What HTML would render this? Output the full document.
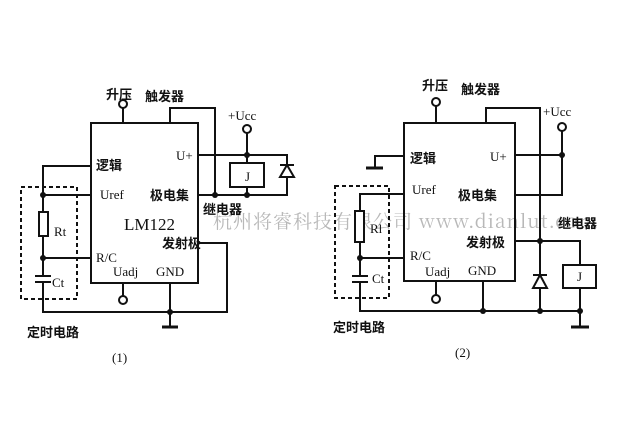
<!DOCTYPE html>
<html><head><meta charset="utf-8"><style>
html,body{margin:0;padding:0;background:#fff}
svg{display:block}
text{font-family:"Liberation Serif","Noto Serif CJK SC",serif;fill:#111}
.c{font-family:"Liberation Sans","Noto Sans CJK SC",sans-serif;font-weight:bold}
</style></head><body>
<svg width="640" height="444" viewBox="0 0 640 444" xmlns="http://www.w3.org/2000/svg">
<text x="213" y="228" font-size="19" style="fill:#b8b8b8;font-family:'Noto Serif CJK SC',serif" letter-spacing="1">杭州将睿科技有限公司 www.dianlut.com</text>
<g stroke="#111" stroke-width="2" fill="none">
<!-- circuit 1 -->
<rect x="91" y="123" width="107" height="160"/>
<line x1="123" y1="108" x2="123" y2="123"/>
<circle cx="123" cy="104" r="4" fill="#fff"/>
<polyline points="170,123 170,108 215,108 215,195"/>
<circle cx="247" cy="129" r="4" fill="#fff"/>
<line x1="247" y1="133" x2="247" y2="163"/>
<polyline points="198,155 287,155 287,195 198,195"/>
<rect x="230" y="163" width="34" height="24" fill="#fff"/>
<line x1="247" y1="187" x2="247" y2="195"/>
<line x1="280" y1="165" x2="294" y2="165"/>
<polygon points="287,165 280,177 294,177" fill="#fff"/>
<polyline points="91,166 43,166 43,312 227,312 227,243 198,243"/>
<line x1="43" y1="195" x2="91" y2="195"/>
<line x1="43" y1="258" x2="91" y2="258"/>
<rect x="39" y="212" width="9" height="24" fill="#fff"/>
<line x1="43" y1="276" x2="43" y2="282" stroke="#fff" stroke-width="4"/>
<line x1="35" y1="276" x2="51" y2="276"/>
<line x1="35" y1="282" x2="51" y2="282"/>
<line x1="170" y1="283" x2="170" y2="327"/>
<line x1="162" y1="327" x2="178" y2="327" stroke-width="3"/>
<line x1="123" y1="283" x2="123" y2="296"/>
<circle cx="123" cy="300" r="4" fill="#fff"/>
<rect x="21" y="187" width="56" height="112" stroke-dasharray="4,3"/>
<!-- circuit 2 -->
<rect x="404" y="123" width="111" height="158"/>
<line x1="436" y1="106" x2="436" y2="123"/>
<circle cx="436" cy="102" r="4" fill="#fff"/>
<polyline points="486,123 486,108 540,108 540,311"/>
<circle cx="562" cy="127" r="4" fill="#fff"/>
<polyline points="562,131 562,195 515,195"/>
<line x1="515" y1="155" x2="562" y2="155"/>
<polyline points="515,241 580,241 580,265"/>
<rect x="563" y="265" width="33" height="23" fill="#fff"/>
<line x1="580" y1="288" x2="580" y2="327"/>
<line x1="571" y1="327" x2="589" y2="327" stroke-width="3"/>
<line x1="533" y1="275" x2="547" y2="275"/>
<polygon points="540,275 533,288 547,288" fill="#fff"/>
<polyline points="404,194 360,194 360,311 580,311"/>
<polyline points="404,156 375,156 375,168"/>
<line x1="366" y1="168" x2="383" y2="168" stroke-width="3"/>
<line x1="360" y1="258" x2="404" y2="258"/>
<rect x="355" y="211" width="9" height="31" fill="#fff"/>
<line x1="360" y1="276" x2="360" y2="282" stroke="#fff" stroke-width="4"/>
<line x1="352" y1="276" x2="368" y2="276"/>
<line x1="352" y1="282" x2="368" y2="282"/>
<line x1="483" y1="281" x2="483" y2="311"/>
<line x1="436" y1="281" x2="436" y2="295"/>
<circle cx="436" cy="299" r="4" fill="#fff"/>
<rect x="335" y="186" width="54" height="112" stroke-dasharray="4,3"/>
</g>
<g fill="#111">
<circle cx="215" cy="195" r="3"/><circle cx="247" cy="155" r="3"/><circle cx="247" cy="195" r="3"/>
<circle cx="43" cy="195" r="3"/><circle cx="43" cy="258" r="3"/><circle cx="170" cy="312" r="3"/>
<circle cx="562" cy="155" r="3"/><circle cx="540" cy="241" r="3"/><circle cx="360" cy="258" r="3"/>
<circle cx="483" cy="311" r="3"/><circle cx="540" cy="311" r="3"/><circle cx="580" cy="311" r="3"/>
</g>
<g font-size="13">
<text class="c" x="106" y="99">升压</text>
<text class="c" x="145" y="101">触发器</text>
<text x="228" y="120">+Ucc</text>
<text class="c" x="96" y="170">逻辑</text>
<text x="176" y="160">U+</text>
<text x="100" y="199">Uref</text>
<text class="c" x="150" y="200">极电集</text>
<text class="c" x="203" y="214">继电器</text>
<text x="124" y="230" font-size="17">LM122</text>
<text class="c" x="162" y="248">发射极</text>
<text x="96" y="262">R/C</text>
<text x="113" y="276">Uadj</text>
<text x="156" y="276">GND</text>
<text x="54" y="236">Rt</text>
<text x="52" y="287">Ct</text>
<text x="245" y="181">J</text>
<text class="c" x="27" y="337">定时电路</text>
<text x="112" y="362">(1)</text>
<text class="c" x="422" y="90">升压</text>
<text class="c" x="461" y="94">触发器</text>
<text x="543" y="116">+Ucc</text>
<text class="c" x="410" y="163">逻辑</text>
<text x="490" y="161">U+</text>
<text x="412" y="194">Uref</text>
<text class="c" x="458" y="200">极电集</text>
<text class="c" x="558" y="228">继电器</text>
<text class="c" x="466" y="247">发射极</text>
<text x="410" y="260">R/C</text>
<text x="425" y="276">Uadj</text>
<text x="468" y="275">GND</text>
<text x="370" y="233">Rl</text>
<text x="372" y="283">Ct</text>
<text x="577" y="281">J</text>
<text class="c" x="333" y="332">定时电路</text>
<text x="455" y="357">(2)</text>
</g>
</svg>
</body></html>
